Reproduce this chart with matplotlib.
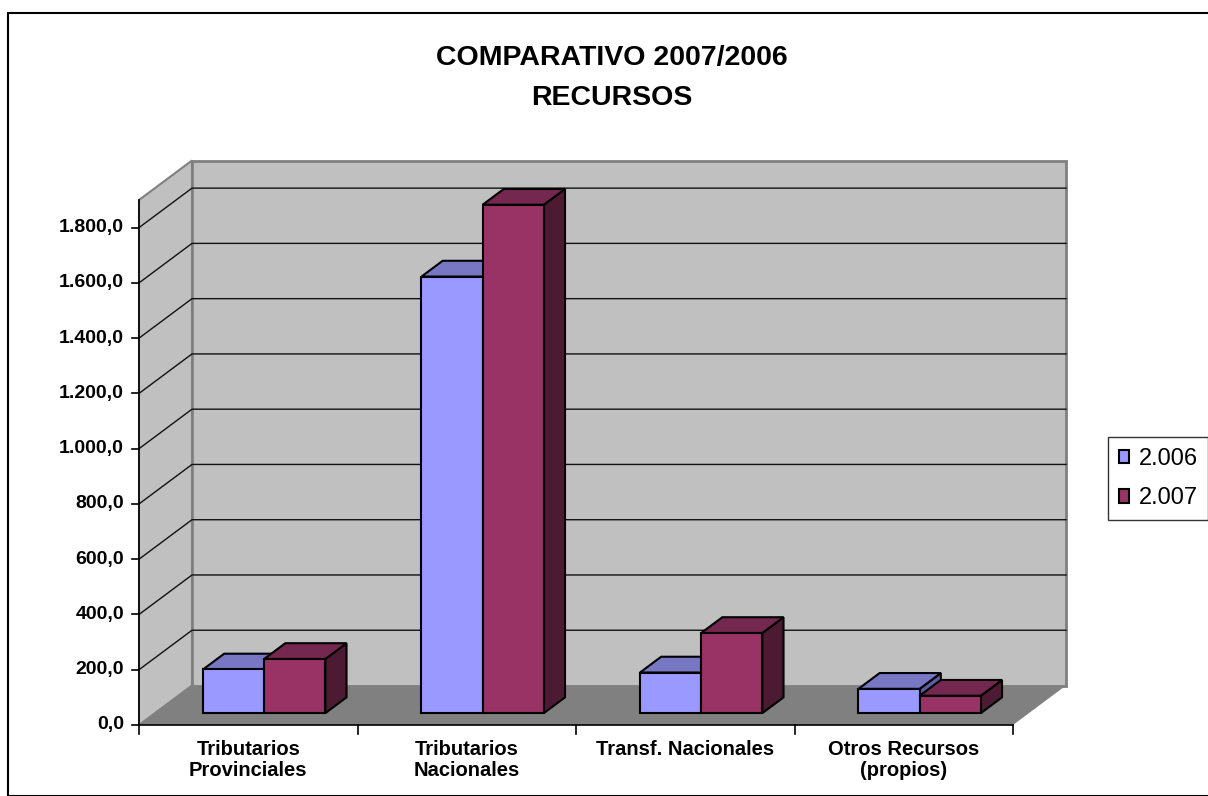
import matplotlib
matplotlib.use("Agg")
import matplotlib.pyplot as plt
from matplotlib.patches import Polygon, Rectangle

categorias = ["Tributarios\nProvinciales", "Tributarios\nNacionales",
              "Transf. Nacionales", "Otros Recursos\n(propios)"]
series = ["2.006", "2.007"]
valores_2006 = [158, 1580, 147, 88]
valores_2007 = [196, 1840, 290, 63]
yticks = [0, 200, 400, 600, 800, 1000, 1200, 1400, 1600, 1800]
ymax = 1900

# colores estilo Excel
frente = ["#9999FF", "#993366"]
tapa = ["#7777C4", "#74284F"]
lado = ["#5C5C9E", "#4D1A33"]

plt.rcParams['font.family'] = ['Liberation Sans', 'DejaVu Sans']

W, H = 1208, 796
fig = plt.figure(figsize=(W / 100, H / 100), dpi=100)
ax = fig.add_axes([0, 0, 1, 1])

# escala: eje frontal x 139..1013 px, y 0 -> 725 px, 1900 -> 200 px
px_cat = (1013 - 139) / 4.0
px_val = (725 - 200) / float(ymax)
ax.set_xlim(-139 / px_cat, (W - 139) / px_cat)
ax.set_ylim(-(H - 725) / px_val, (725) / px_val)
ax.axis("off")

# profundidad oblicua
DX = 53 / px_cat
DY = 39.5 / px_val

def p(x, v, d):
    return (x + d * DX, v + d * DY)

ncat = len(categorias)
# piso
ax.add_patch(Polygon([p(0, 0, 0), p(ncat, 0, 0), p(ncat, 0, 1), p(0, 0, 1)],
                     closed=True, facecolor="#808080", edgecolor="none", zorder=1))
# pared lateral y trasera
ax.add_patch(Polygon([p(0, 0, 0), p(0, 0, 1), p(0, ymax, 1), p(0, ymax, 0)],
                     closed=True, facecolor="#C0C0C0", edgecolor="#808080", lw=1.5, zorder=1))
ax.add_patch(Polygon([p(0, 0, 1), p(ncat, 0, 1), p(ncat, ymax, 1), p(0, ymax, 1)],
                     closed=True, facecolor="#C0C0C0", edgecolor="#808080", lw=2, zorder=1))

# lineas de division
for v in yticks[1:]:
    a, b, c = p(0, v, 0), p(0, v, 1), p(ncat, v, 1)
    ax.plot([a[0], b[0], c[0]], [a[1], b[1], c[1]], color="#111111", lw=1, zorder=2)

# eje Y
ax.plot([0, 0], [0, ymax], color="black", lw=1.2, zorder=3)
for v in yticks:
    ax.plot([-7 / px_cat, 0], [v, v], color="black", lw=1.2, zorder=3)
    lab = "{:,.1f}".format(v).replace(",", "X").replace(".", ",").replace("X", ".")
    ax.text(-15 / px_cat, v, lab, ha="right", va="center", fontsize=14,
            fontweight="bold")

# eje X
ax.plot([0, ncat], [0, 0], color="black", lw=1.2, zorder=3)
for i in range(ncat + 1):
    ax.plot([i, i], [0, -9 / px_val], color="black", lw=1.2, zorder=3)
for i, c in enumerate(categorias):
    ax.text(i + 0.5, -15 / px_val, c, ha="center", va="top", fontsize=14.5,
            fontweight="bold", linespacing=1.15)

# barras 3D
bw = 0.28
d0, d1 = 0.3, 0.7
handles = []
for i in range(ncat):
    for s, vals in enumerate([valores_2006, valores_2007]):
        v = vals[i]
        x0 = i + 0.5 - bw + s * bw + d0 * DX
        base = d0 * DY
        dd = d1 - d0
        z = 4 + i * 2 + s
        # lado derecho
        ax.add_patch(Polygon([(x0 + bw, base), (x0 + bw + dd * DX, base + dd * DY),
                              (x0 + bw + dd * DX, base + v + dd * DY), (x0 + bw, base + v)],
                             closed=True, facecolor=lado[s], edgecolor="black", lw=1.5, zorder=z))
        # tapa
        ax.add_patch(Polygon([(x0, base + v), (x0 + bw, base + v),
                              (x0 + bw + dd * DX, base + v + dd * DY), (x0 + dd * DX, base + v + dd * DY)],
                             closed=True, facecolor=tapa[s], edgecolor="black", lw=1.5, zorder=z))
        bar = ax.bar(x0, v, width=bw, bottom=base, align="edge", color=frente[s],
                     edgecolor="black", lw=1.5, zorder=z)
        if i == 0:
            handles.append(bar)

# titulo
fig.text(612 / W, 1 - 58 / H, "COMPARATIVO 2007/2006", ha="center", va="center",
         fontsize=20.5, fontweight="bold")
fig.text(612 / W, 1 - 98 / H, "RECURSOS", ha="center", va="center",
         fontsize=20.5, fontweight="bold")

# leyenda
leg = fig.legend(handles, series, loc="upper left", bbox_to_anchor=(1108 / W, 1 - 437 / H),
                 fontsize=17, frameon=True, fancybox=False, borderaxespad=0,
                 handlelength=0.45, handleheight=0.5, handletextpad=0.4,
                 labelspacing=0.75, borderpad=0.45)
leg.get_frame().set_edgecolor("black")
leg.get_frame().set_linewidth(1)

# marco del grafico
fig.add_artist(Rectangle((8 / W, 0), 1.2, 1 - 13 / H, transform=fig.transFigure,
                         fill=False, edgecolor="black", lw=1.5))

fig.savefig("out.png", dpi=100)
